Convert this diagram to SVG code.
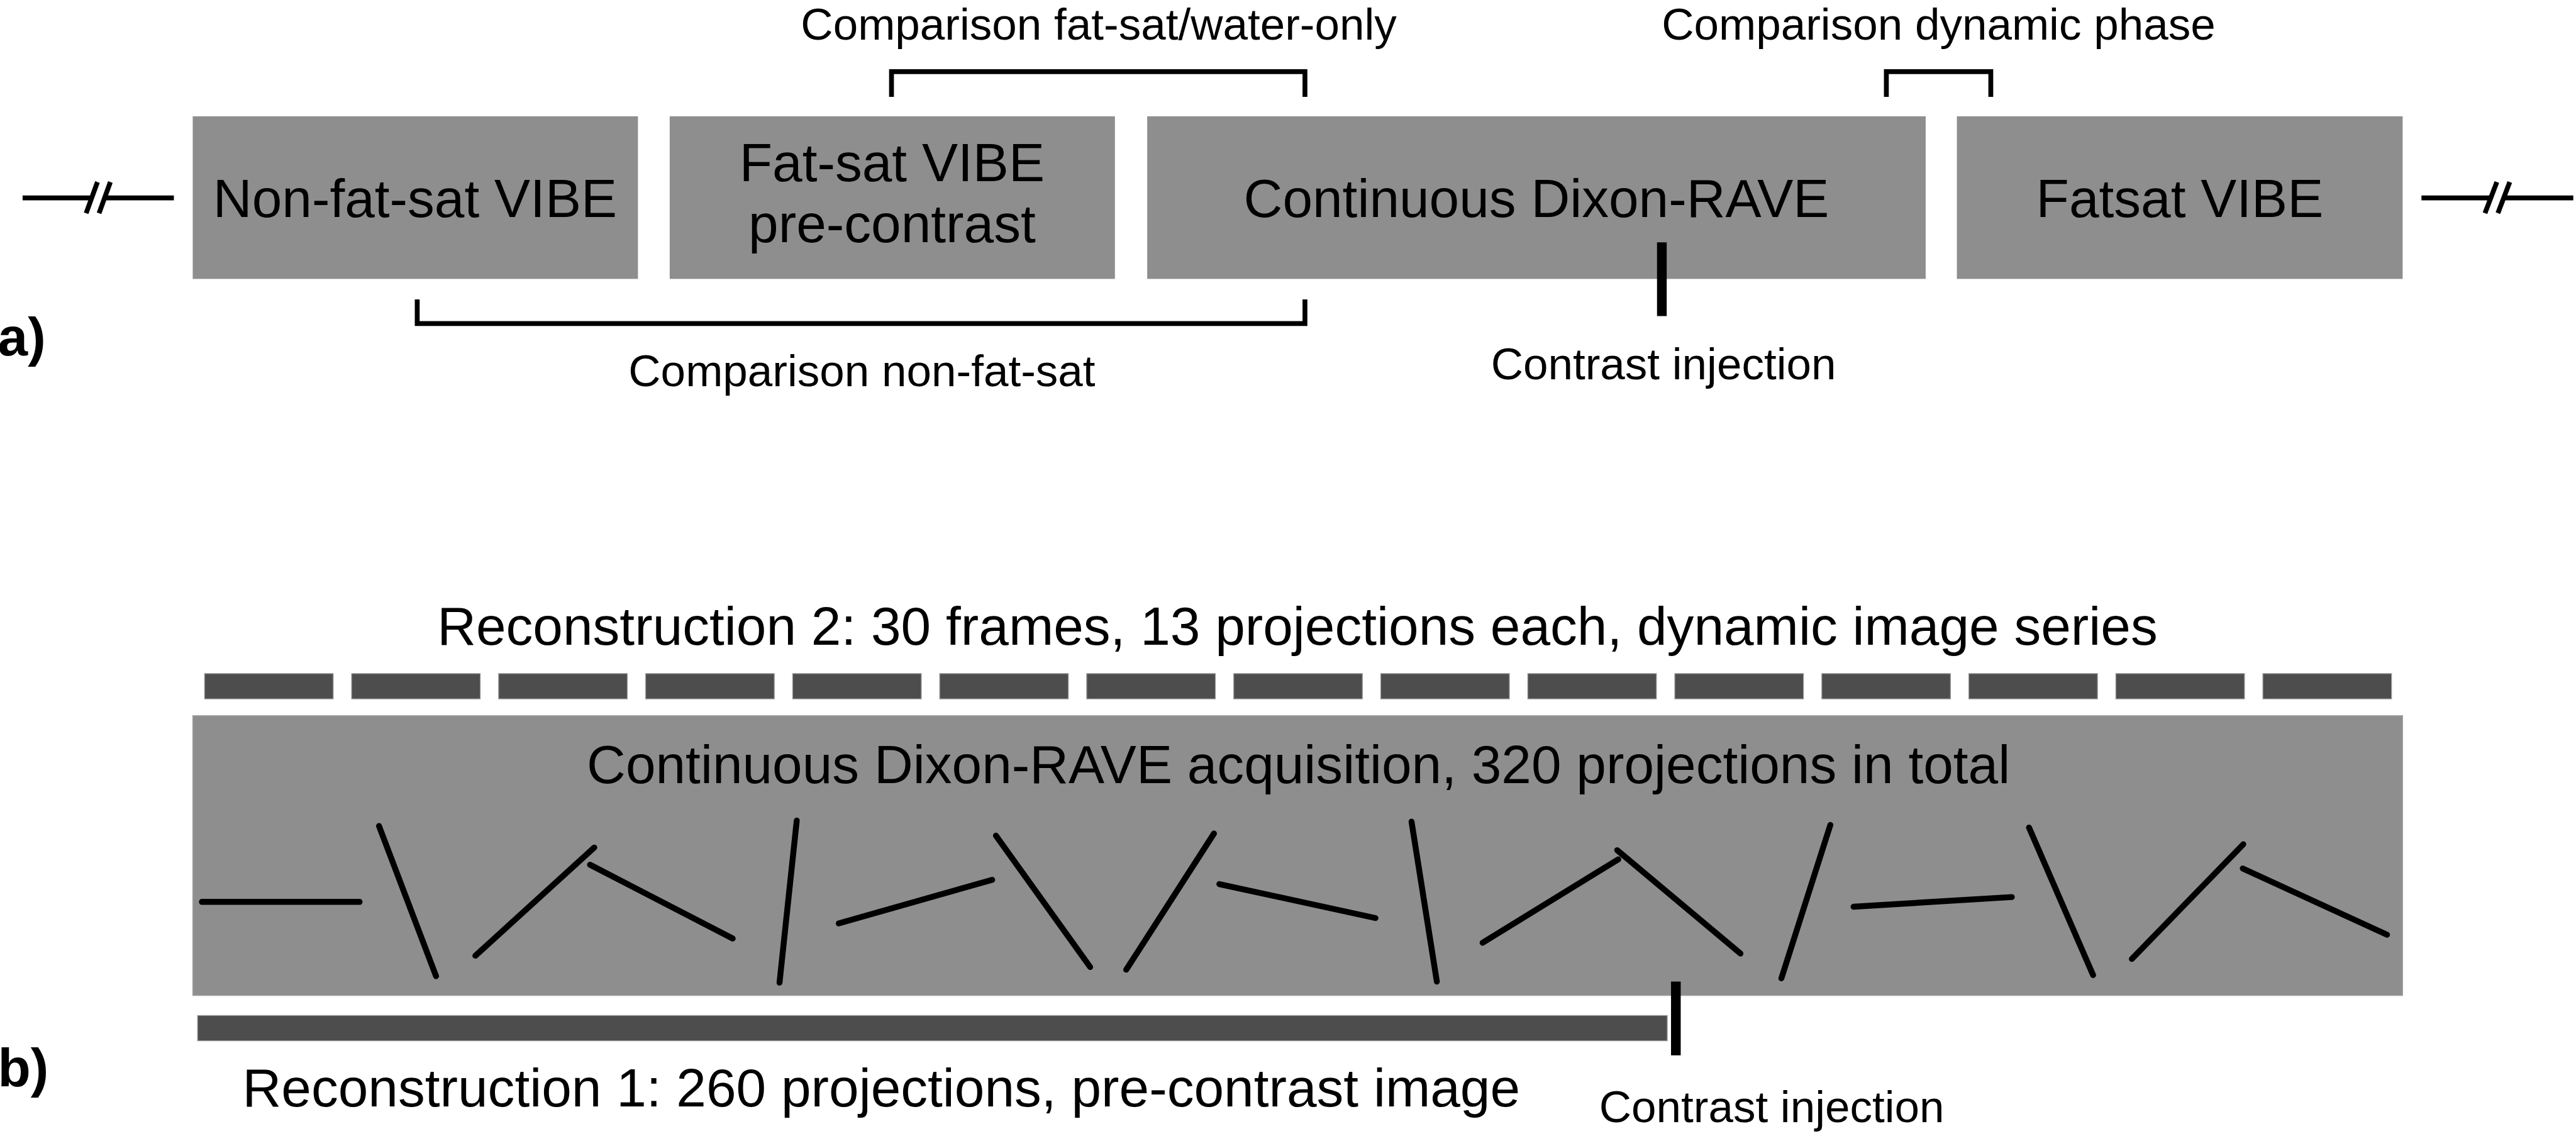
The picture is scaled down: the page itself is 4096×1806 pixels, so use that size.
<svg xmlns="http://www.w3.org/2000/svg" width="4096" height="1806" viewBox="0 0 4096 1806">
<style>
text{font-family:"Liberation Sans",Arial,sans-serif;fill:#000}
.t100{font-size:100px;text-anchor:middle}
.t83{font-size:83px;text-anchor:middle}
.lbl{font-size:100px;font-weight:bold}
.box{fill:#8e8e8e}
.bar{fill:#4d4d4d;stroke:#9a9a9a;stroke-width:1.5}
.brk{fill:none;stroke:#000;stroke-width:9;stroke-linecap:butt;stroke-linejoin:miter}
.tick{stroke:#000;stroke-width:18;stroke-linecap:butt}
.proj{stroke:#000;stroke-width:11;stroke-linecap:round}
.brkl{stroke:#000;stroke-width:9;stroke-linecap:butt}
</style>
<rect width="4096" height="1806" fill="#fff"/>
<g transform="scale(0.856)">
  <!-- Part a -->
  <text class="lbl" x="-4" y="660">a)</text>
  <g id="break-left">
    <line class="brkl" x1="42" y1="367.5" x2="168" y2="367.5"/>
    <line class="brkl" x1="196" y1="367.5" x2="323" y2="367.5"/>
    <line class="brkl" x1="160" y1="396" x2="181" y2="338"/>
    <line class="brkl" x1="184" y1="396" x2="205" y2="338"/>
  </g>
  <g id="break-right">
    <line class="brkl" x1="4498" y1="367.5" x2="4624" y2="367.5"/>
    <line class="brkl" x1="4651" y1="367.5" x2="4780" y2="367.5"/>
    <line class="brkl" x1="4616" y1="396" x2="4638" y2="338"/>
    <line class="brkl" x1="4640" y1="396" x2="4662" y2="338"/>
  </g>
  <g id="node-nonfatsat">
    <rect class="box" x="358" y="216" width="827" height="302"/>
    <text class="t100" x="771" y="403">Non-fat-sat VIBE</text>
  </g>
  <g id="node-fatsat-pre">
    <rect class="box" x="1244" y="216" width="827" height="302"/>
    <text class="t100" x="1657" y="337">Fat-sat VIBE</text>
    <text class="t100" x="1657" y="450">pre-contrast</text>
  </g>
  <g id="node-dixon-rave">
    <rect class="box" x="2131" y="216" width="1446" height="302"/>
    <text class="t100" x="2854" y="403">Continuous Dixon-RAVE</text>
  </g>
  <g id="node-fatsat-vibe">
    <rect class="box" x="3635" y="216" width="828" height="302"/>
    <text class="t100" x="4049" y="403">Fatsat VIBE</text>
  </g>
  <g id="connectors-a">
    <path class="brk" d="M1656,180 V133 H2424 V180"/>
    <path class="brk" d="M3504,180 V133 H3698 V180"/>
    <path class="brk" d="M775,556 V601 H2424 V556"/>
    <line class="tick" x1="3087" y1="450" x2="3087" y2="587"/>
  </g>
  <text class="t83" x="2041" y="74">Comparison fat-sat/water-only</text>
  <text class="t83" x="3601" y="74">Comparison dynamic phase</text>
  <text class="t83" x="1601" y="717">Comparison non-fat-sat</text>
  <text class="t83" x="3090" y="704">Contrast injection</text>

  <!-- Part b -->
  <text class="lbl" x="-4" y="2018">b)</text>
  <text class="t100" x="2410" y="1198">Reconstruction 2: 30 frames, 13 projections each, dynamic image series</text>
  <g id="frames">
    <rect class="bar" x="380" y="1251" width="239" height="47"/>
    <rect class="bar" x="653.1" y="1251" width="239" height="47"/>
    <rect class="bar" x="926.2" y="1251" width="239" height="47"/>
    <rect class="bar" x="1199.3" y="1251" width="239" height="47"/>
    <rect class="bar" x="1472.4" y="1251" width="239" height="47"/>
    <rect class="bar" x="1745.5" y="1251" width="239" height="47"/>
    <rect class="bar" x="2018.6" y="1251" width="239" height="47"/>
    <rect class="bar" x="2291.7" y="1251" width="239" height="47"/>
    <rect class="bar" x="2564.8" y="1251" width="239" height="47"/>
    <rect class="bar" x="2837.9" y="1251" width="239" height="47"/>
    <rect class="bar" x="3111" y="1251" width="239" height="47"/>
    <rect class="bar" x="3384.1" y="1251" width="239" height="47"/>
    <rect class="bar" x="3657.2" y="1251" width="239" height="47"/>
    <rect class="bar" x="3930.3" y="1251" width="239" height="47"/>
    <rect class="bar" x="4203.4" y="1251" width="239" height="47"/>
  </g>
  <g id="node-acquisition">
    <rect class="box" x="358" y="1329" width="4105" height="520" stroke="#a8a8a8" stroke-width="1.5"/>
    <text class="t100" x="2412" y="1455">Continuous Dixon-RAVE acquisition, 320 projections in total</text>
    <g id="projections">
      <line class="proj" x1="375" y1="1675" x2="668" y2="1675"/>
      <line class="proj" x1="704" y1="1534" x2="810" y2="1813"/>
      <line class="proj" x1="883" y1="1775" x2="1104" y2="1574"/>
      <line class="proj" x1="1096" y1="1606" x2="1361" y2="1743"/>
      <line class="proj" x1="1480" y1="1524" x2="1448" y2="1825"/>
      <line class="proj" x1="1558" y1="1715" x2="1843" y2="1634"/>
      <line class="proj" x1="1850" y1="1552" x2="2025" y2="1796"/>
      <line class="proj" x1="2092" y1="1801" x2="2255" y2="1548"/>
      <line class="proj" x1="2265" y1="1642" x2="2555" y2="1705"/>
      <line class="proj" x1="2622" y1="1526" x2="2669" y2="1823"/>
      <line class="proj" x1="2754" y1="1751" x2="3006" y2="1596"/>
      <line class="proj" x1="3004" y1="1579" x2="3233" y2="1771"/>
      <line class="proj" x1="3400" y1="1532" x2="3309" y2="1817"/>
      <line class="proj" x1="3443" y1="1684" x2="3737" y2="1666"/>
      <line class="proj" x1="3769" y1="1537" x2="3888" y2="1811"/>
      <line class="proj" x1="4167" y1="1568" x2="3960" y2="1781"/>
      <line class="proj" x1="4166" y1="1613" x2="4434" y2="1736"/>
    </g>
  </g>
  <g id="node-recon1">
    <rect class="bar" x="367" y="1886" width="2730" height="47"/>
    <text class="t100" x="1637" y="2055">Reconstruction 1: 260 projections, pre-contrast image</text>
  </g>
  <g id="connectors-b">
    <line class="tick" x1="3113" y1="1823" x2="3113" y2="1960"/>
  </g>
  <text class="t83" x="3291" y="2084">Contrast injection</text>
</g>
</svg>
